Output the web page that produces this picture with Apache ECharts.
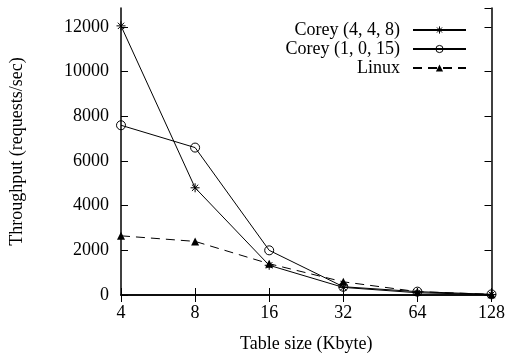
<!DOCTYPE html>
<html>
<head>
<meta charset="utf-8">
<script src="https://cdn.jsdelivr.net/npm/echarts@6/dist/echarts.min.js"></script>
<style>
html,body{margin:0;padding:0;background:#fff;}
#chart{width:508px;height:358px;}
</style>
</head>
<body>
<div id="chart"></div>
<script>
const categories = ['4', '8', '16', '32', '64', '128'];
const corey448 = [12050, 4800, 1330, 340, 100, 20];
const corey1015 = [7600, 6600, 2000, 370, 150, 30];
const linux = [2650, 2400, 1400, 590, 150, 30];
const yTicks = [0, 2000, 4000, 6000, 8000, 10000, 12000];

const FONT = 'Times New Roman';
const asterisk = 'path://M0,5L10,5M5,0L5,10M1.5,1.5L8.5,8.5M1.5,8.5L8.5,1.5';
const hollow = {color: 'rgba(0,0,0,0)', borderColor: '#000', borderWidth: 1};

const chart = echarts.init(document.getElementById('chart'), null, {renderer: 'canvas'});
const tickColor = '#000';
chart.setOption({
  animation: false,
  backgroundColor: '#fff',
  textStyle: {fontFamily: FONT, color: '#000'},
  grid: {left: 116, right: 14, top: 8, bottom: 60, containLabel: false},
  legend: {
    right: 36, top: 16, orient: 'vertical', align: 'right',
    itemWidth: 53, itemHeight: 9, itemGap: 1,
    textStyle: {fontFamily: FONT, fontSize: 18, color: '#000', lineHeight: 18, padding: [0, 8, 0, 0]},
    selectedMode: false,
    data: [
      {name: 'Corey (4, 4, 8)', itemStyle: hollow},
      {name: 'Corey (1, 0, 15)', itemStyle: hollow},
      {name: 'Linux'}
    ]
  },
  xAxis: [{
    type: 'category', data: categories, boundaryGap: false,
    name: 'Table size (Kbyte)', nameLocation: 'middle', nameGap: 40,
    nameTextStyle: {fontFamily: FONT, fontSize: 18, color: '#000'},
    axisLine: {lineStyle: {color: '#000', width: 1.5}},
    axisTick: {inside: true, length: 7, lineStyle: {color: tickColor}},
    axisLabel: {fontFamily: FONT, fontSize: 18, color: '#000', margin: 9},
    splitLine: {show: false}
  }, {
    type: 'category', data: categories, boundaryGap: false, position: 'top',
    axisLine: {lineStyle: {color: '#000', width: 1.5}},
    axisTick: {inside: true, length: 7, lineStyle: {color: tickColor}},
    axisLabel: {show: false}, splitLine: {show: false}
  }],
  yAxis: [{
    type: 'value', min: 0, max: 12850, interval: 2000,
    name: 'Throughput (requests/sec)', nameLocation: 'middle', nameGap: 95,
    nameTextStyle: {fontFamily: FONT, fontSize: 18, color: '#000'},
    axisLine: {show: true, lineStyle: {color: '#000', width: 1.5}},
    axisTick: {show: true, inside: true, length: 7, lineStyle: {color: tickColor}},
    axisLabel: {fontFamily: FONT, fontSize: 18, color: '#000', margin: 12, showMaxLabel: false,
      formatter: v => yTicks.includes(v) ? String(v) : ''},
    splitLine: {show: false}
  }, {
    type: 'value', min: 0, max: 12850, interval: 2000, position: 'right',
    axisLine: {show: true, lineStyle: {color: '#000', width: 1.5}},
    axisTick: {show: true, inside: true, length: 7, lineStyle: {color: tickColor}},
    axisLabel: {show: false}, splitLine: {show: false}
  }],
  series: [{
    name: 'Corey (4, 4, 8)', type: 'line', data: corey448,
    symbol: asterisk, symbolSize: 9,
    itemStyle: hollow,
    lineStyle: {color: '#000', width: 1},
    emphasis: {disabled: true}, z: 3
  }, {
    name: 'Corey (1, 0, 15)', type: 'line', data: corey1015,
    symbol: 'circle', symbolSize: 9,
    itemStyle: hollow,
    lineStyle: {color: '#000', width: 1},
    emphasis: {disabled: true}, z: 3
  }, {
    name: 'Linux', type: 'line', data: linux,
    symbol: 'triangle', symbolSize: 8,
    itemStyle: {color: '#000', borderColor: '#000', borderWidth: 0},
    lineStyle: {color: '#000', width: 1, type: [9, 6]},
    emphasis: {disabled: true}, z: 3
  }]
});
</script>
</body>
</html>
